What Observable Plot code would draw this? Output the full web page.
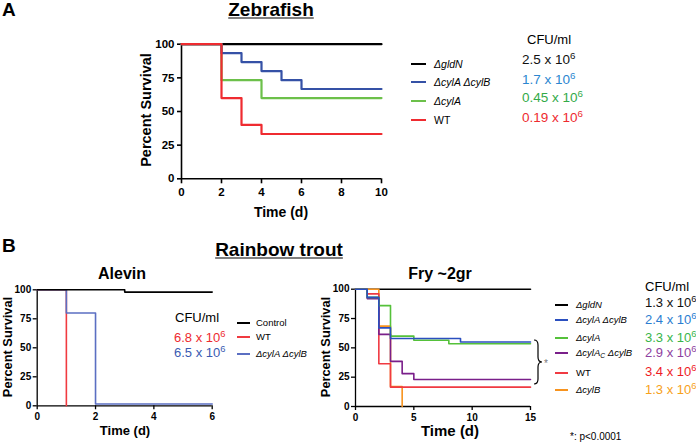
<!DOCTYPE html>
<html>
<head>
<meta charset="utf-8">
<script src="https://cdn.jsdelivr.net/npm/d3@7"></script>
<script src="https://cdn.jsdelivr.net/npm/@observablehq/plot@0.6"></script>
<style>
  html, body { margin: 0; padding: 0; background: #fff; }
  #root { position: relative; width: 696px; height: 442px; overflow: hidden;
          font-family: "Liberation Sans", Arial, Helvetica, sans-serif; color: #000; }
  .abs { position: absolute; white-space: nowrap; line-height: 1; }
  .c { transform: translate(-50%, -50%); }
  .l { transform: translate(0, -50%); }
  .rot { transform: translate(-50%, -50%) rotate(-90deg); }
  .sw { position: absolute; }
  .sup { font-size: 0.72em; position: relative; top: -0.5em; }
</style>
</head>
<body>
<div id="root"></div>
<script>
// ---------- DATA ----------
// Panel A: Zebrafish (day, percent survival)
const zfGldN      = [[0,100],[10,100]];
const zfCylACylB  = [[0,100],[2,93.3],[3,86.7],[4,80],[5,73.3],[6,66.7],[10,66.7]];
const zfCylA      = [[0,100],[2,73.3],[4,60],[10,60]];
const zfWT        = [[0,100],[2,60],[3,40],[4,33.3],[10,33.3]];
const zfXTicks    = [0,2,4,6,8,10];

// Panel B: Rainbow trout, Alevin
const alControl   = [[0,100],[3,98],[6,98]];
const alWT        = [[0,100],[1,0]];
const alCylACylB  = [[0,100],[1,80],[2,1.5],[6,1.5]];
const alXTicks    = [0,2,4,6];

// Panel B: Rainbow trout, Fry ~2gr
const frGldN      = [[0,100],[15,100]];
const frCylACylB  = [[0,100],[1,93],[2,67],[3,58],[9,55],[15,55]];
const frCylA      = [[0,100],[1,93],[2,86],[3,60],[5,56.5],[8,53.5],[15,53.5]];
const frCylAcCylB = [[0,100],[1,92],[2,61.5],[3,38.5],[4,28],[5,23],[15,23]];
const frWT        = [[0,100],[1,96],[2,36.5],[3,16.5],[15,16.5]];
const frCylB      = [[0,100],[2,68.5],[3,17],[4,0]];
const frXTicks    = [0,5,10,15];

const yTicks = [0,25,50,75,100];

// Legend / CFU text
const zfLabels = ["<i>&Delta;gldN</i>", "<i>&Delta;cylA &Delta;cylB</i>", "<i>&Delta;cylA</i>", "WT"];
const zfCFU    = ["2.5", "1.7", "0.45", "0.19"];
const alLabels = ["Control", "WT", "<i>&Delta;cylA &Delta;cylB</i>"];
const alCFU    = ["6.8", "6.5"];
const frLabels = ["<i>&Delta;gldN</i>", "<i>&Delta;cylA &Delta;cylB</i>", "<i>&Delta;cylA</i>",
                  "<i>&Delta;cylA<span style='font-size:0.7em;position:relative;top:0.35em'>C</span> &Delta;cylB</i>", "WT", "<i>&Delta;cylB</i>"];
const frCFU    = ["1.3", "2.4", "3.3", "2.9", "3.4", "1.3"];

// ---------- COLOURS ----------
const zfLineColors = ["#000000", "#3551a6", "#6cc04a", "#ef2b30"];
const zfTextColors = ["#111111", "#2b86d0", "#33aa48", "#ee2a2f"];
const alLineColors = ["#000000", "#f03a40", "#5b6fc2"];
const alTextColors = ["#ee2a2f", "#3a5ab2"];
const frLineColors = ["#000000", "#2b4fbf", "#55c13a", "#7a1f8a", "#f03a42", "#f7931e"];
const frTextColors = ["#111111", "#2b7dd1", "#39b54a", "#8e3fa0", "#ee1c25", "#f7a11a"];

// ---------- HELPERS ----------
const root = document.getElementById("root");
function place(node, left, top) {
  const d = document.createElement("div");
  d.className = "abs";
  d.style.left = left + "px"; d.style.top = top + "px";
  d.appendChild(node);
  root.appendChild(d);
}
function text(html, x, y, cls, style) {
  const d = document.createElement("div");
  d.className = "abs " + cls;
  d.style.left = x + "px"; d.style.top = y + "px";
  Object.assign(d.style, style || {});
  d.innerHTML = html;
  root.appendChild(d);
  return d;
}
function swatch(x1, x2, y, color, w) {
  const d = document.createElement("div");
  d.className = "sw";
  d.style.left = x1 + "px"; d.style.width = (x2 - x1) + "px";
  d.style.top = Math.round(y - w / 2) + "px";
  d.style.height = w + "px";
  d.style.background = color;
  root.appendChild(d);
}
const X = d => d[0], Y = d => d[1];
function survival({width, height, mt, mr, mb, ml, xDomain, xTicks, series, colors, sw, axisW, tickFont, yTickSize, xTickSize, xPad, yPad}) {
  return Plot.plot({
    width, height, marginTop: mt, marginRight: mr, marginBottom: mb, marginLeft: ml,
    x: {domain: xDomain, label: null},
    y: {domain: [0, 100], label: null},
    style: {fontFamily: "'Liberation Sans', Arial, sans-serif", background: "transparent", overflow: "visible", color: "#000"},
    marks: [
      Plot.axisX({ticks: xTicks, tickSize: xTickSize, tickPadding: xPad, strokeWidth: axisW, fontSize: tickFont, fontWeight: "bold", label: null, tickFormat: d => String(d)}),
      Plot.axisY({ticks: yTicks, tickSize: yTickSize, tickPadding: yPad, strokeWidth: axisW, fontSize: tickFont, fontWeight: "bold", label: null, tickFormat: d => String(d)}),
      Plot.ruleY([0], {stroke: "#000", strokeWidth: axisW}),
      Plot.ruleX([0], {stroke: "#000", strokeWidth: axisW}),
      ...series.map((s, i) => Plot.line(s, {x: X, y: Y, curve: "step-after", stroke: colors[i], strokeWidth: sw}))
    ]
  });
}

// ---------- PANEL A ----------
text("A", 2, 9, "l", {fontSize: "19px", fontWeight: "bold"});
text("Zebrafish", 271, 9, "c", {fontSize: "19px", fontWeight: "bold", textDecoration: "underline", textUnderlineOffset: "2px"});
place(survival({
  width: 270, height: 195, mt: 13.7, mr: 19, mb: 46.7, ml: 51,
  xDomain: [0, 10], xTicks: zfXTicks,
  series: [zfGldN, zfCylA, zfCylACylB, zfWT],
  colors: [zfLineColors[0], zfLineColors[2], zfLineColors[1], zfLineColors[3]],
  sw: 2.2, axisW: 1.6, tickFont: 11.5, yTickSize: 4, xTickSize: 5, xPad: 4, yPad: 3
}), 130, 30);
text("Percent Survival", 146, 110, "rot", {fontSize: "14.5px", fontWeight: "bold"});
text("Time (d)", 281, 212, "c", {fontSize: "14px", fontWeight: "bold"});

text("CFU/ml", 527, 39, "l", {fontSize: "13px"});
const zfRows = [64, 82, 101, 120];
const zfValRows = [60, 80, 98, 118];
zfLabels.forEach((lab, i) => {
  swatch(411, 426, zfRows[i], zfLineColors[i], 2);
  text(lab, 434, zfRows[i], "l", {fontSize: "10.5px"});
  text(zfCFU[i] + " x 10<span class='sup'>6</span>", 522, zfValRows[i], "l", {fontSize: "13.5px", color: zfTextColors[i]});
});

// ---------- PANEL B ----------
text("B", 2, 245, "l", {fontSize: "19px", fontWeight: "bold"});
text("Rainbow trout", 279, 249, "c", {fontSize: "19px", fontWeight: "bold", textDecoration: "underline", textUnderlineOffset: "2px"});

// Alevin
text("Alevin", 122, 273.5, "c", {fontSize: "16px", fontWeight: "bold"});
place(survival({
  width: 230, height: 170, mt: 19.3, mr: 18.3, mb: 34.7, ml: 36.7,
  xDomain: [0, 6], xTicks: alXTicks,
  series: [alWT, alCylACylB, alControl],
  colors: [alLineColors[1], alLineColors[2], alLineColors[0]],
  sw: 1.6, axisW: 1.3, tickFont: 10, yTickSize: 4, xTickSize: 4, xPad: 3, yPad: 2
}), 0, 270);
text("Percent Survival", 8, 347, "rot", {fontSize: "12.8px", fontWeight: "bold"});
text("Time (d)", 125, 430, "c", {fontSize: "13px", fontWeight: "bold"});
text("CFU/ml", 175, 317, "l", {fontSize: "13px"});
alCFU.forEach((v, i) => text(v + " x 10<span class='sup'>6</span>", 174, [338, 353][i], "l", {fontSize: "13px", color: alTextColors[i]}));
const alRows = [323, 337, 354];
alLabels.forEach((lab, i) => {
  swatch(237, 250, alRows[i], alLineColors[i], 1.5);
  text(lab, 256, alRows[i], "l", {fontSize: "9.5px"});
});

// Fry
text("Fry ~2gr", 440, 273.5, "c", {fontSize: "16px", fontWeight: "bold"});
place(survival({
  width: 230, height: 170, mt: 18.7, mr: 20, mb: 34, ml: 35,
  xDomain: [0, 15], xTicks: frXTicks,
  series: [frGldN, frCylB, frWT, frCylAcCylB, frCylA, frCylACylB],
  colors: [frLineColors[0], frLineColors[5], frLineColors[4], frLineColors[3], frLineColors[2], frLineColors[1]],
  sw: 1.6, axisW: 1.3, tickFont: 10, yTickSize: 4, xTickSize: 4, xPad: 3, yPad: 2
}), 320, 270);
text("Percent Survival", 326, 347, "rot", {fontSize: "12.8px", fontWeight: "bold"});
text("Time (d)", 450, 430, "c", {fontSize: "15px", fontWeight: "bold"});
text("CFU/ml", 645, 286, "l", {fontSize: "13px"});
const frRows = [305, 320, 338, 353, 373, 390];
const frValRows = [303, 320, 338, 353, 372, 390];
frLabels.forEach((lab, i) => {
  swatch(555, 568, frRows[i], frLineColors[i], 1.5);
  text(lab, 576, frRows[i], "l", {fontSize: "9.5px"});
  text(frCFU[i] + " x 10<span class='sup'>6</span>", 645, frValRows[i], "l", {fontSize: "13px", color: frTextColors[i]});
});

// significance brace
const svgNS = "http://www.w3.org/2000/svg";
const br = document.createElementNS(svgNS, "svg");
br.setAttribute("width", "20"); br.setAttribute("height", "50");
br.style.position = "absolute"; br.style.left = "532px"; br.style.top = "337px";
const p = document.createElementNS(svgNS, "path");
p.setAttribute("d", "M2,3 Q6,3 6,8 L6,20 Q6,25 10,25 Q6,25 6,30 L6,42 Q6,47 2,47");
p.setAttribute("fill", "none"); p.setAttribute("stroke", "#000"); p.setAttribute("stroke-width", "1.2");
br.appendChild(p);
root.appendChild(br);
text("*", 546, 364, "c", {fontSize: "10px", color: "#777"});
text("*: p&lt;0.0001", 570, 437, "l", {fontSize: "10px"});
</script>
</body>
</html>
